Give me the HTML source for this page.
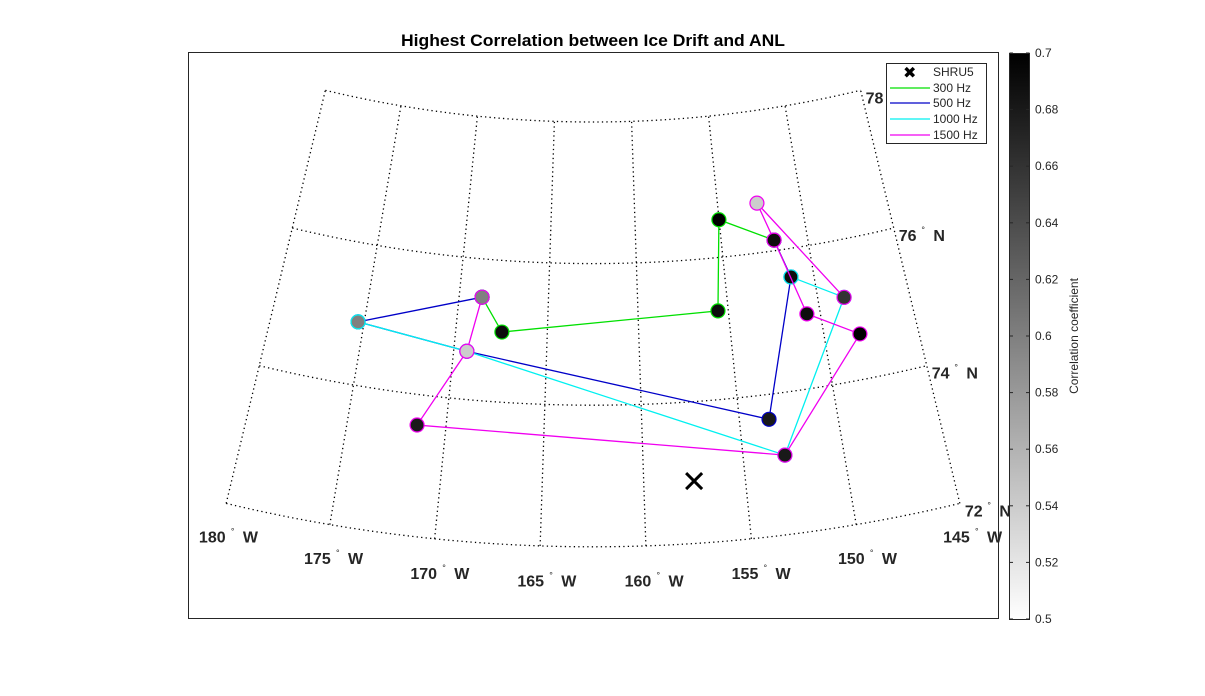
<!DOCTYPE html>
<html><head><meta charset="utf-8"><style>
html,body{margin:0;padding:0;background:#fff;}
svg{display:block;font-family:"Liberation Sans","DejaVu Sans",sans-serif;}
</style></head><body>
<svg id="chart" width="1205" height="696" viewBox="0 0 1205 696" xmlns="http://www.w3.org/2000/svg">
<defs><linearGradient id="cbg" x1="0" y1="0" x2="0" y2="1"><stop offset="0" stop-color="#000"/><stop offset="1" stop-color="#fff"/></linearGradient></defs>
<rect x="188.5" y="52.5" width="810" height="566" fill="#fff" stroke="#262626" stroke-width="1"/>
<text x="593" y="46" text-anchor="middle" font-size="17" font-weight="bold" fill="#000" textLength="384" lengthAdjust="spacingAndGlyphs">Highest Correlation between Ice Drift and ANL</text>
<g id="grid"></g>
<g id="labels"></g>
<g id="series"></g>
<g>
<rect x="886.5" y="63.5" width="100" height="80" fill="#fff" stroke="#262626"/>
<text x="903" y="78" font-size="16" font-weight="bold" fill="#000">✖</text>
<text x="933" y="76" font-size="12" fill="#262626">SHRU5</text>
<line x1="890" y1="88" x2="930" y2="88" stroke="#00e000" stroke-width="1.2"/><text x="933" y="92" font-size="12" fill="#262626">300 Hz</text>
<line x1="890" y1="103" x2="930" y2="103" stroke="#0000c8" stroke-width="1.2"/><text x="933" y="107" font-size="12" fill="#262626">500 Hz</text>
<line x1="890" y1="119" x2="930" y2="119" stroke="#00f0f0" stroke-width="1.2"/><text x="933" y="123" font-size="12" fill="#262626">1000 Hz</text>
<line x1="890" y1="135" x2="930" y2="135" stroke="#f000f0" stroke-width="1.2"/><text x="933" y="139" font-size="12" fill="#262626">1500 Hz</text>
</g>
<g>
<rect x="1009.5" y="53.5" width="20" height="566" fill="url(#cbg)" stroke="#262626"/>
<g id="cbticks"></g>
<text transform="translate(1078,336) rotate(-90)" text-anchor="middle" font-size="12" fill="#262626">Correlation coefficient</text>
</g>
</svg>
<script>
const ns="http://www.w3.org/2000/svg";
const meridians=[-180,-175,-170,-165,-160,-155,-150,-145];
const parallels=[72,74,76,78];
const cbTicks=[0.5,0.52,0.54,0.56,0.58,0.6,0.62,0.64,0.66,0.68,0.7];
const shru5=[-157.52,72.88];
const lon300=[-168.72,-167.48,-155.57,-155.01,-151.94];
const lat300=[75.46,74.99,75.25,76.53,76.15];
const cor300=[0.60,0.69,0.69,0.70,0.69];
const lon500=[-168.72,-175.33,-169.29,-153.49,-151.29,-151.94];
const lat500=[75.46,74.89,74.68,73.65,75.60,76.15];
const cor500=[0.60,0.60,0.54,0.68,0.69,0.69];
const lon1000=[-175.33,-169.29,-152.92,-148.56,-151.29];
const lat1000=[74.89,74.68,73.12,75.19,75.60];
const cor1000=[0.60,0.54,0.68,0.66,0.69];
const lon1500=[-168.72,-169.29,-171.47,-152.92,-148.09,-150.73,-151.94,-152.64,-148.56];
const lat1500=[75.46,74.68,73.57,73.12,74.64,75.05,76.15,76.70,75.19];
const cor1500=[0.60,0.54,0.68,0.68,0.70,0.69,0.69,0.54,0.66];
const seriesColors=["#00e000","#0000c8","#00f0f0","#f000f0"];
const seriesNames=["300hz","500hz","1000hz","1500hz"];
const seriesLon=[lon300,lon500,lon1000,lon1500];
const seriesLat=[lat300,lat500,lat1000,lat1500];
const seriesCor=[cor300,cor500,cor1000,cor1500];

const AX=593,AY=-1024.6,R78=1146.6,RPD=70.8,K=0.7714,LON0=-162.5;
function proj(lon,lat){const r=R78+(78-lat)*RPD;const t=(lon-LON0)*K*Math.PI/180;return [AX+r*Math.sin(t),AY+r*Math.cos(t)];}
function cy(v){return 619-(v-0.5)/0.2*566;}
function gray(v){let g=Math.round(255*(1-Math.max(0,Math.min(1,(v-0.5)/0.2))));return `rgb(${g},${g},${g})`;}
function mk(tag,attrs,parent){const e=document.createElementNS(ns,tag);for(const k in attrs)e.setAttribute(k,attrs[k]);parent.appendChild(e);return e;}
const grid=document.getElementById('grid');
parallels.forEach(lat=>{let pts=[];for(let lo=-180;lo<=-145.001+0.001;lo+=0.5)pts.push(proj(lo,lat).join(','));
 const p=mk('polyline',{points:pts.join(' '),fill:'none',stroke:'#000','stroke-width':1.3,'stroke-dasharray':'1.3,3.2'},grid);
 
 });
meridians.forEach(lon=>{let pts=[];for(let la=72;la<=78.001;la+=0.25)pts.push(proj(lon,la).join(','));
 const p=mk('polyline',{points:pts.join(' '),fill:'none',stroke:'#000','stroke-width':1.3,'stroke-dasharray':'1.3,3.2'},grid);
 
 });
const labels=document.getElementById('labels');
function lbl(x,y,num,suf,name){const g=mk('g',{},labels);
 
 
 const a=mk('text',{x:x,y:y,'font-size':16,'font-weight':'bold',fill:'#262626'},g);a.textContent=num;
 const nw=num.length*9.3;
 const b=mk('text',{x:x+nw+4,y:y-8,'font-size':9,fill:'#262626'},g);b.textContent='°';
 const c=mk('text',{x:x+nw+16,y:y,'font-size':16,'font-weight':'bold',fill:'#262626'},g);c.textContent=suf;}
meridians.forEach(lon=>{const p=proj(lon,72);const off=Math.abs(lon-LON0);lbl(p[0]-22+(lon-LON0)*0.3,p[1]+41-off*0.12,String(-lon),'W','lon-label-'+(-lon));});
parallels.forEach(lat=>{const p=proj(-145,lat);lbl(p[0]+5,p[1]+13,String(lat),'N','lat-label-'+lat);});
const ser=document.getElementById('series');
for(let s=0;s<4;s++){const lo=seriesLon[s],la=seriesLat[s],co=seriesCor[s];
 const g=mk('g',{},ser);
 
 
 const pts=lo.map((v,i)=>proj(v,la[i]).join(','));
 const pl=mk('polyline',{points:pts.join(' '),fill:'none',stroke:seriesColors[s],'stroke-width':1.3},g);
 
 
 lo.forEach((v,i)=>{const p=proj(v,la[i]);const c=mk('circle',{cx:p[0],cy:p[1],r:7,fill:gray(co[i]),stroke:seriesColors[s],'stroke-width':1.2},g);
  
  });}
const sp=proj(shru5[0],shru5[1]);
const x=mk('path',{d:`M${sp[0]-8},${sp[1]-8}L${sp[0]+8},${sp[1]+8}M${sp[0]+8},${sp[1]-8}L${sp[0]-8},${sp[1]+8}`,stroke:'#000','stroke-width':3},ser);


const cbt=document.getElementById('cbticks');
cbTicks.forEach(v=>{const y=cy(v);mk('line',{x1:1009.5,x2:1013,y1:y,y2:y,stroke:'#262626'},cbt);mk('line',{x1:1026,x2:1029.5,y1:y,y2:y,stroke:'#262626'},cbt);
 const t=mk('text',{x:1035,y:y+4,'font-size':12,fill:'#262626'},cbt);t.textContent=String(v);
 
 });
</script>
</body></html>
